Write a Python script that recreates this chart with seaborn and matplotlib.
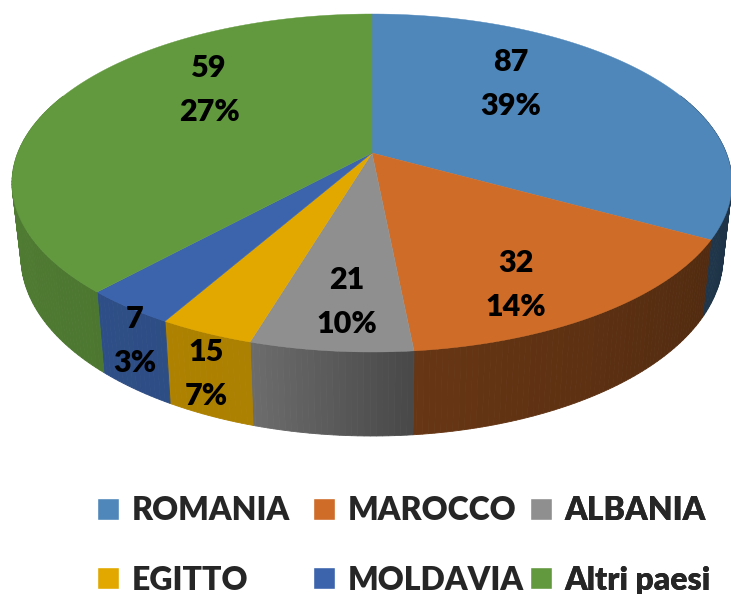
import numpy as np
import matplotlib
matplotlib.use('Agg')
import matplotlib.pyplot as plt
from matplotlib.patches import Patch
import seaborn as sns

# values printed on the slices
countries = ['ROMANIA', 'MAROCCO', 'ALBANIA', 'EGITTO', 'MOLDAVIA', 'Altri paesi']
counts = [87, 32, 21, 15, 7, 59]
# the drawn slices are not proportional to the labels, so their extent is read off the rim
rim_degrees = [109.7, 63.6, 26.5, 15.3, 14.7, 130.2]

colors = ['#4F87BA', '#CE6C28', '#8F8F8F', '#E2A800', '#3B64AD', '#62993E']
label_xy = [(511, 84), (516, 285), (347, 302), (206, 374), (135, 341), (209, 90)]
legend_x = [97, 313, 530]

sns.set_theme(style='white')
plt.rcParams['font.family'] = ['Lato', 'DejaVu Sans']

fig = plt.figure(figsize=(7.31, 5.94), dpi=100)
ax = fig.add_axes([0, 0, 1, 1])
ax.set_xlim(0, 731)
ax.set_ylim(594, 0)
ax.axis('off')


# top rim and bottom rim, t in degrees clockwise from 12 o'clock
def top_rim(t):
    r = np.radians(t)
    return 372 + 360 * np.sin(r), 183 - 169 * np.cos(r)


def bottom_rim(t):
    r = np.radians(t)
    return 372 + 351 * np.sin(r), 257 - 179 * np.cos(r)


edges = np.concatenate([[0], np.cumsum(rim_degrees)])

# side wall first, darker towards the right
for i, col in enumerate(colors):
    ts = np.arange(edges[i], edges[i + 1] + 1, 1.0)
    ts = np.append(ts[ts < edges[i + 1]], edges[i + 1])
    for a, b in zip(ts[:-1], ts[1:]):
        if b < 60 or a > 300:
            continue
        shade = np.interp((a + b) / 2, [100, 173, 200, 230, 290], [0.38, 0.50, 0.76, 0.78, 0.82])
        c = tuple(np.array(matplotlib.colors.to_rgb(col)) * shade)
        x0, y0 = top_rim(a)
        x1, y1 = top_rim(b)
        x2, y2 = bottom_rim(b)
        x3, y3 = bottom_rim(a)
        ax.fill([x0, x1, x2, x3], [y0, y1, y2, y3], color=c, lw=0.6, zorder=2)

# top face, all slices meet at the apex
for i, col in enumerate(colors):
    ts = np.linspace(edges[i], edges[i + 1], 120)
    xs, ys = top_rim(ts)
    ax.fill(np.r_[372, xs], np.r_[153, ys], color=col, lw=0.3, zorder=3)

total = sum(counts)
for v, (x, y) in zip(counts, label_xy):
    ax.text(x, y, f'{v}\n{v / total * 100:.0f}%', ha='center', va='center',
            fontsize=22, fontweight='heavy', color='black', linespacing=1.7, zorder=4)

# one legend per column, the columns in the reference are not evenly spaced
for col, x in enumerate(legend_x):
    leg = ax.legend([Patch(facecolor=colors[col]), Patch(facecolor=colors[col + 3])],
                    [countries[col], countries[col + 3]],
                    loc='lower left', bbox_to_anchor=(x / 731, -0.001), frameon=False,
                    prop={'size': 23, 'weight': 'heavy', 'family': 'Lato'},
                    handlelength=0.68, handleheight=0.68, handletextpad=0.4,
                    labelspacing=1.27, borderpad=0, borderaxespad=0)
    ax.add_artist(leg)

plt.savefig('out.png', dpi=100)
